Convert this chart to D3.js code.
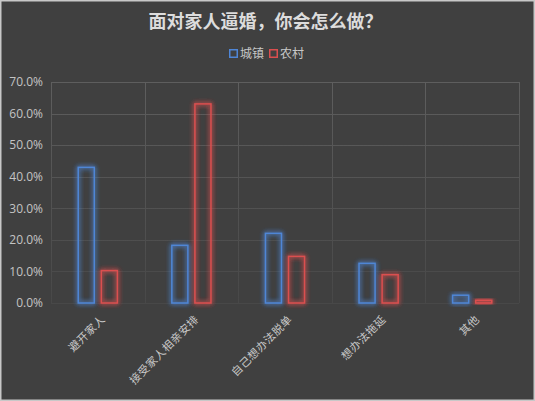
<!DOCTYPE html>
<html><head><meta charset="utf-8">
<script src="https://cdn.jsdelivr.net/npm/d3@7"></script>
<style>
html,body{margin:0;padding:0;background:#404040;}
svg{display:block;}
</style></head>
<body>
<script>
const categories = ["避开家人","接受家人相亲安排","自己想办法脱单","想办法拖延","其他"];
const seriesNames = ["城镇","农村"];
const urban = [43.2, 18.5, 22.3, 12.8, 2.7];
const rural = [10.5, 63.3, 15.0, 9.2, 1.1];
const yTicks = [0,10,20,30,40,50,60,70];
const title = "面对家人逼婚，你会怎么做？";
const colors = ["#4f86d6","#db4f4f"];

const W = 535, H = 401;
const m = {left:51, right:16, top:82, bottom:98};
const svg = d3.select("body").append("svg").attr("width",W).attr("height",H);

const defs = svg.append("defs");
const f = defs.append("filter").attr("id","glow").attr("x","-50%").attr("y","-50%").attr("width","200%").attr("height","200%");
f.append("feGaussianBlur").attr("in","SourceGraphic").attr("stdDeviation",2.5).attr("result","b");
const fm = f.append("feMerge");
fm.append("feMergeNode").attr("in","b");
fm.append("feMergeNode").attr("in","b");
fm.append("feMergeNode").attr("in","SourceGraphic");

const gg = defs.append("linearGradient").attr("id","gridg").attr("gradientUnits","userSpaceOnUse")
  .attr("x1",0).attr("y1",m.top).attr("x2",0).attr("y2",H-m.bottom);
gg.append("stop").attr("offset","0%").attr("stop-color","#5e5e5e");
gg.append("stop").attr("offset","100%").attr("stop-color","#484848");

svg.append("rect").attr("x",0.75).attr("y",0.75).attr("width",W-1.5).attr("height",H-1.5)
  .attr("fill","#404040").attr("stroke","#c8c8c8").attr("stroke-width",1.5);

const x0 = d3.scaleBand().domain(categories).range([m.left, W-m.right]).paddingInner(0).paddingOuter(0);
const groupW = x0.bandwidth()*0.434;
const x1 = d3.scaleBand().domain(seriesNames).range([0, groupW]).paddingInner(0.24);
const y = d3.scaleLinear().domain([0,70]).range([H-m.bottom, m.top]);

// gridlines
const grid = svg.append("g");
grid.selectAll("line.h").data(yTicks).join("line").attr("class","h")
  .attr("x1",m.left).attr("x2",W-m.right).attr("y1",d=>Math.round(y(d))+0.5).attr("y2",d=>Math.round(y(d))+0.5)
  .attr("stroke","url(#gridg)").attr("stroke-width",1);
const vb = categories.map(c=>x0(c)).concat([x0.range()[1]]);
grid.selectAll("line.v").data(vb).join("line").attr("class","v")
  .attr("x1",d=>Math.round(d)+0.5).attr("x2",d=>Math.round(d)+0.5).attr("y1",m.top).attr("y2",y(0))
  .attr("stroke","url(#gridg)").attr("stroke-width",1);

// y axis labels
const yAxis = d3.axisLeft(y).tickValues(yTicks).tickFormat(d=>d.toFixed(1)+"%").tickSize(0).tickPadding(8);
const ya = svg.append("g").attr("transform",`translate(${m.left},0)`).call(yAxis);
ya.select(".domain").remove();
ya.selectAll("text").attr("fill","#c4c4c4").style("font-family","'Open Sans', Lato, sans-serif").style("font-size","12px");

// bars
const data = categories.map((c,i)=>({c, vals:[urban[i], rural[i]]}));
const groups = svg.append("g").selectAll("g").data(data).join("g")
  .attr("transform",d=>`translate(${x0(d.c)+(x0.bandwidth()-groupW)/2},0)`);
groups.selectAll("rect").data(d=>d.vals.map((v,j)=>({v,s:seriesNames[j],j}))).join("rect")
  .attr("x",d=>x1(d.s)+0.75).attr("width",x1.bandwidth()-1.5)
  .attr("y",d=>y(d.v)+0.75).attr("height",d=>Math.max(0,y(0)-y(d.v)-0.75))
  .attr("fill","none").attr("stroke",d=>colors[d.j]).attr("stroke-width",1.5)
  .attr("filter","url(#glow)");

// x labels
const xa = svg.append("g").attr("transform",`translate(0,${y(0)})`)
  .call(d3.axisBottom(x0).tickSize(0).tickPadding(0));
xa.select(".domain").remove();
xa.selectAll(".tick text")
  .attr("text-anchor","end").attr("dy",0).attr("y",0)
  .attr("transform","translate(8,17) rotate(-45)")
  .attr("fill","#c8c8c8").style("font-family","'Noto Sans CJK SC', sans-serif").style("font-size","11px")
  .style("letter-spacing","0.5px");

// title
svg.append("text").attr("x",W/2-2).attr("y",28).attr("text-anchor","middle")
  .attr("fill","#dcdcdc").style("font-family","'Noto Sans CJK SC', sans-serif").style("font-weight","bold")
  .style("font-size","18px").text(title);

// legend
const lg = svg.append("g").attr("transform","translate(229,0)");
const items = [{n:seriesNames[0],c:colors[0],x:0},{n:seriesNames[1],c:colors[1],x:40}];
const li = lg.selectAll("g").data(items).join("g").attr("transform",d=>`translate(${d.x},0)`);
li.append("rect").attr("x",0.75).attr("y",49.75).attr("width",7.5).attr("height",7.5)
  .attr("fill","none").attr("stroke",d=>d.c).attr("stroke-width",1.5);
li.append("text").attr("x",11).attr("y",58).attr("fill","#c8c8c8")
  .style("font-family","'Noto Sans CJK SC', sans-serif").style("font-size","12px").text(d=>d.n);
</script>
</body></html>
